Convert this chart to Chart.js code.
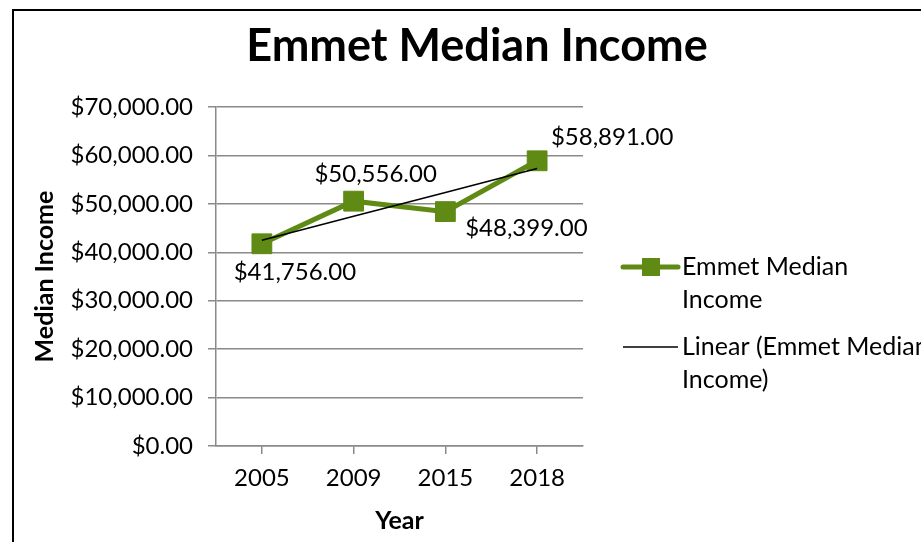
<!DOCTYPE html>
<html>
<head>
<meta charset="utf-8">
<script src="https://cdn.jsdelivr.net/npm/chart.js@4.4.1/dist/chart.umd.min.js"></script>
<style>
html, body { margin: 0; padding: 0; background: #fff; overflow: hidden; }
#marco { position: absolute; left: 12px; top: 9px; width: 1000px; height: 700px;
         border-left: 2px solid #000; border-top: 2px solid #000; }
#contenedor { position: absolute; left: 0; top: 0; width: 921px; height: 542px; }
</style>
</head>
<body>
<div id="marco"></div>
<div id="contenedor"><canvas id="lienzoGrafica"></canvas></div>
<script>
'use strict';

// datos
const years = ['2005', '2009', '2015', '2018'];
const incomeValues = [41756, 50556, 48399, 58891];
const trendValues = [42500, 47450, 52350, 57300]; // linea de tendencia (lineal)
const yMin = 0;
const yMax = 70000;
const yStep = 10000;

const FUENTE = 'Lato, Carlito, Calibri, sans-serif';
const VERDE = 'rgb(95, 138, 20)';
const GRIS = '#8a8a8a';
const TITULO = 'Emmet Median Income';

function dinero(v) {
    return '$' + Number(v).toLocaleString('en-US', { minimumFractionDigits: 2, maximumFractionDigits: 2 });
}

// posicion de las etiquetas respecto al punto (px)
const desplazamientos = [[33, 28], [22, -27], [81, 17], [75, -24]];

const etiquetasPlugin = {
    id: 'etiquetas',
    afterDatasetsDraw(chart) {
        const ctx = chart.ctx;
        const meta = chart.getDatasetMeta(0);
        ctx.save();
        ctx.font = '24px ' + FUENTE;
        ctx.fillStyle = '#000';
        ctx.textAlign = 'center';
        ctx.textBaseline = 'middle';
        meta.data.forEach((p, i) => {
            const d = desplazamientos[i];
            ctx.fillText(dinero(incomeValues[i]), p.x + d[0], p.y + d[1]);
        });
        ctx.restore();
    }
};

// titulo centrado en todo el marco (no solo en la zona del grafico)
const tituloPlugin = {
    id: 'tituloMarco',
    afterDraw(chart) {
        const ctx = chart.ctx;
        ctx.save();
        ctx.font = 'bold 45px ' + FUENTE;
        ctx.fillStyle = '#000';
        ctx.textAlign = 'center';
        ctx.textBaseline = 'alphabetic';
        ctx.fillText(TITULO, 477, 61);
        ctx.restore();
    }
};

// leyenda a la derecha, con texto partido en dos lineas
const leyendaPlugin = {
    id: 'leyenda',
    afterDraw(chart) {
        const ctx = chart.ctx;
        const x0 = chart.chartArea.right + 40;
        const entradas = [
            { lineas: ['Emmet Median', 'Income'], ds: chart.data.datasets[0], y: 267 },
            { lineas: ['Linear (Emmet Median', 'Income)'], ds: chart.data.datasets[1], y: 347 }
        ];
        ctx.save();
        entradas.forEach(e => {
            ctx.strokeStyle = e.ds.borderColor;
            ctx.lineWidth = e.ds.borderWidth;
            ctx.lineCap = e.ds.pointRadius ? 'round' : 'butt';
            ctx.beginPath();
            ctx.moveTo(x0, e.y);
            ctx.lineTo(x0 + 55, e.y);
            ctx.stroke();
            if (e.ds.pointRadius) {
                ctx.fillStyle = e.ds.backgroundColor;
                ctx.fillRect(x0 + 19, e.y - 9, 18, 18);
            }
            ctx.font = '25px ' + FUENTE;
            ctx.fillStyle = '#000';
            ctx.textAlign = 'left';
            ctx.textBaseline = 'middle';
            e.lineas.forEach((t, k) => ctx.fillText(t, x0 + 59, e.y + k * 33));
        });
        ctx.restore();
    }
};

const ctx = document.getElementById('lienzoGrafica');

const myChart = new Chart(ctx, {
    type: 'line',
    data: {
        labels: years,
        datasets: [{
            label: 'Emmet Median Income',
            data: incomeValues,
            borderColor: VERDE,
            backgroundColor: VERDE,
            borderWidth: 5,
            tension: 0,
            fill: false,
            pointStyle: 'rect',
            pointRadius: 14,
            pointHoverRadius: 14,
            pointBorderWidth: 1,
            pointBackgroundColor: VERDE,
            pointBorderColor: VERDE,
            order: 2
        },
        {
            label: 'Linear (Emmet Median Income)',
            data: trendValues,
            borderColor: '#000',
            backgroundColor: '#000',
            borderWidth: 1.5,
            tension: 0,
            fill: false,
            pointRadius: 0,
            order: 1
        }]
    },
    options: {
        responsive: true,
        maintainAspectRatio: false,
        animation: false,
        layout: { padding: { left: 30, right: 338, top: 107, bottom: 0 } },
        plugins: {
            legend: { display: false },
            tooltip: { enabled: false },
            title: { display: false }
        },
        scales: {
            x: {
                offset: true,
                grid: { display: true, drawOnChartArea: false, drawTicks: true, tickLength: 8, color: GRIS, lineWidth: 1.5 },
                border: { display: true, color: GRIS, width: 1.5 },
                ticks: { color: '#000', font: { family: FUENTE, size: 24 }, padding: 10 },
                title: { display: true, text: 'Year', color: '#000', font: { family: FUENTE, size: 25, weight: 'bold' }, padding: { top: 4, bottom: 6 } },
                afterFit(scale) { scale.height = 96; }
            },
            y: {
                min: yMin,
                max: yMax,
                grid: { color: GRIS, lineWidth: 1.5, tickLength: 8 },
                border: { display: true, color: GRIS, width: 1.5 },
                ticks: { stepSize: yStep, color: '#000', font: { family: FUENTE, size: 24 }, padding: 15, callback: v => dinero(v) },
                title: { display: true, text: 'Median Income', color: '#000', font: { family: FUENTE, size: 25, weight: 'bold' }, padding: 0 },
                afterFit(scale) { scale.width = 186; }
            }
        }
    },
    plugins: [etiquetasPlugin, tituloPlugin, leyendaPlugin]
});
</script>
</body>
</html>
